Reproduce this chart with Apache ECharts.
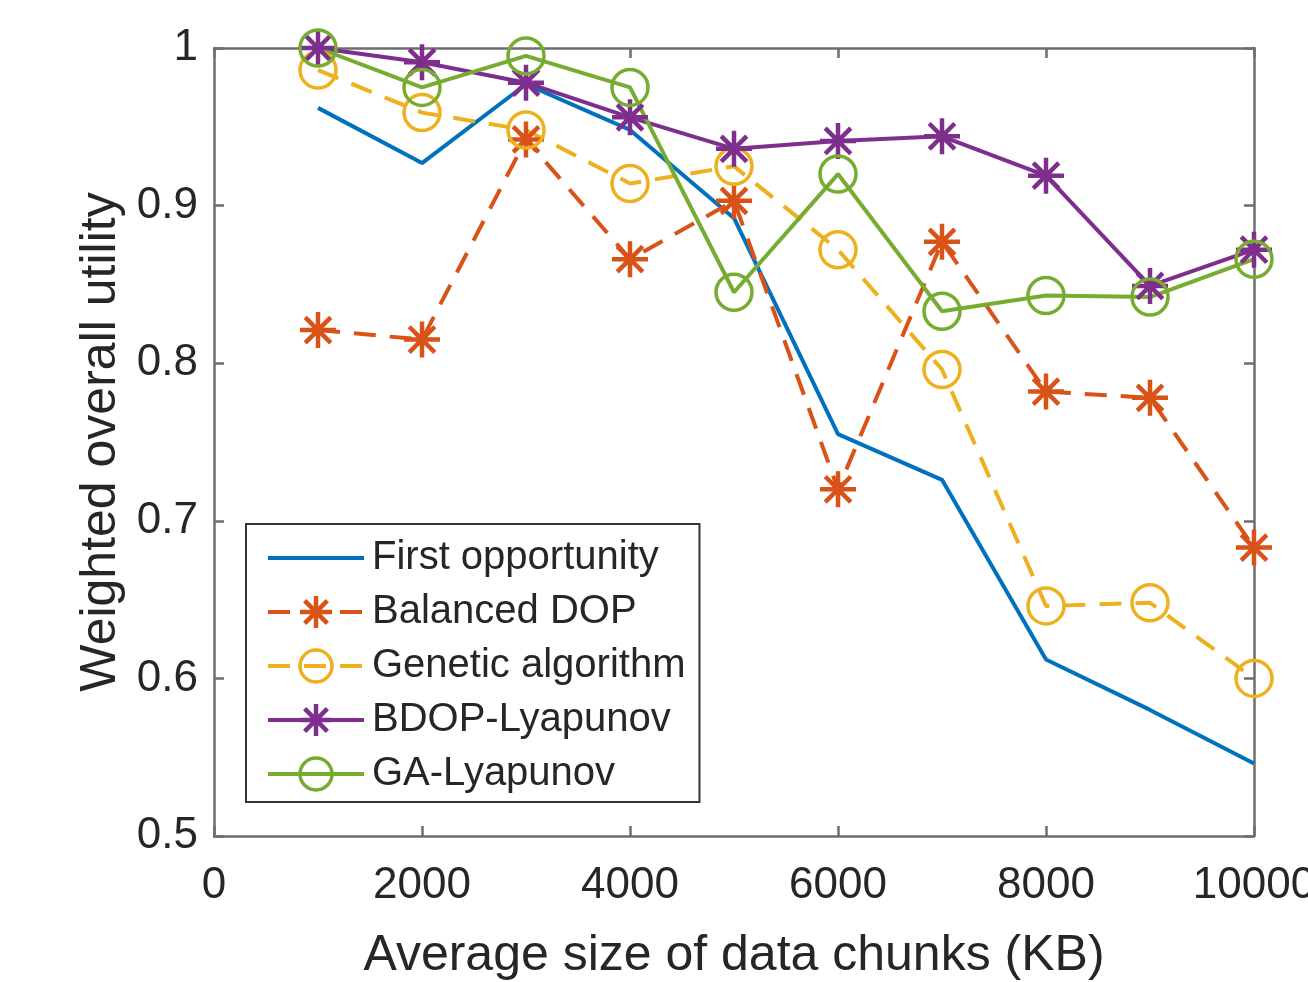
<!DOCTYPE html>
<html>
<head>
<meta charset="utf-8">
<script src="https://cdn.jsdelivr.net/npm/echarts@6/dist/echarts.min.js"></script>
<style>
html, body { margin: 0; padding: 0; background: #fff; }
#main { width: 1308px; height: 982px; }
</style>
</head>
<body>
<div id="main"></div>
<script>
// x 轴：数据块平均大小 (KB)
var chunkSizes = [1000, 2000, 3000, 4000, 5000, 6000, 7000, 8000, 9000, 10000];

// 各算法的加权总效用
var firstOpportunity = [0.962, 0.927, 0.977, 0.948, 0.892, 0.755, 0.726, 0.612, 0.580, 0.546];
var balancedDOP      = [0.821, 0.815, 0.942, 0.866, 0.903, 0.720, 0.877, 0.782, 0.778, 0.683];
var geneticAlgorithm = [0.986, 0.959, 0.948, 0.914, 0.925, 0.872, 0.796, 0.646, 0.648, 0.600];
var bdopLyapunov     = [1.000, 0.991, 0.978, 0.956, 0.936, 0.941, 0.944, 0.919, 0.849, 0.872];
var gaLyapunov       = [1.000, 0.975, 0.995, 0.975, 0.845, 0.920, 0.833, 0.843, 0.842, 0.866];

var seriesNames = ['First opportunity', 'Balanced DOP', 'Genetic algorithm', 'BDOP-Lyapunov', 'GA-Lyapunov'];
var xTicks = [0, 2000, 4000, 6000, 8000, 10000];
var yTicks = [0.5, 0.6, 0.7, 0.8, 0.9, 1];

var FONT = '"Liberation Sans", Arial, Helvetica, sans-serif';
var TEXT_COLOR = '#262626';
var AXIS_COLOR = '#6e6e6e';

// 星号标记
var ASTERISK = 'path://M10,0L10,20M0,10L20,10M2.9,2.9L17.1,17.1M2.9,17.1L17.1,2.9';

function pairs(ys) {
    return chunkSizes.map(function (x, i) { return [x, ys[i]]; });
}

function makeSeries(name, ys, color, dashed, marker) {
    var s = {
        name: name,
        type: 'line',
        data: pairs(ys),
        xAxisIndex: 0,
        yAxisIndex: 0,
        lineStyle: {
            color: color,
            width: 4,
            type: dashed ? [22, 14] : 'solid'
        },
        emphasis: { disabled: true },
        animation: false
    };
    if (marker === 'star') {
        s.symbol = ASTERISK;
        s.symbolSize = 36;
        s.itemStyle = { color: color, borderColor: color, borderWidth: 4.5 };
    } else if (marker === 'circle') {
        s.symbol = 'circle';
        s.symbolSize = 36;
        s.itemStyle = { color: 'rgba(0,0,0,0)', borderColor: color, borderWidth: 3.5 };
    } else {
        s.symbol = 'none';
        s.itemStyle = { color: color };
    }
    return s;
}

var myChart = echarts.init(document.getElementById('main'));

var axisTick = { show: true, inside: true, length: 10, lineStyle: { color: AXIS_COLOR, width: 2.5 } };
var axisLine = { show: true, onZero: false, lineStyle: { color: AXIS_COLOR, width: 2.5 } };

function plainNumber(v) {
    return String(Math.round(v * 10) / 10);
}

var option = {
    backgroundColor: '#fff',
    animation: false,
    grid: {
        left: 214,
        right: 54,
        top: 48,
        bottom: 146,
        containLabel: false,
        outerBoundsMode: 'none'
    },
    legend: {
        orient: 'vertical',
        left: 246,
        top: 524,
        padding: [14, 14, 8, 20],
        itemWidth: 96,
        itemHeight: 40,
        itemGap: 14,
        backgroundColor: '#fff',
        borderColor: '#333',
        borderWidth: 2,
        borderRadius: 0,
        selectedMode: false,
        lineStyle: { width: 4 },
        textStyle: {
            fontFamily: FONT,
            fontSize: 40,
            color: TEXT_COLOR,
            padding: [0, 0, 0, 3]
        },
        data: [
            { name: seriesNames[0], itemStyle: { opacity: 0 } },
            { name: seriesNames[1], itemStyle: { borderWidth: 4.5 } },
            { name: seriesNames[2], itemStyle: { borderWidth: 3.5 } },
            { name: seriesNames[3], itemStyle: { borderWidth: 4.5 } },
            { name: seriesNames[4], itemStyle: { borderWidth: 3.5 } }
        ]
    },
    xAxis: [{
        type: 'value',
        min: xTicks[0],
        max: xTicks[xTicks.length - 1],
        interval: 2000,
        position: 'bottom',
        name: 'Average size of data chunks (KB)',
        nameLocation: 'middle',
        nameGap: 95,
        nameTextStyle: { fontFamily: FONT, fontSize: 50, color: TEXT_COLOR },
        axisLabel: { fontFamily: FONT, fontSize: 44, color: TEXT_COLOR, margin: 28, formatter: plainNumber },
        axisTick: axisTick,
        axisLine: axisLine,
        splitLine: { show: false }
    }, {
        type: 'value',
        min: xTicks[0],
        max: xTicks[xTicks.length - 1],
        interval: 2000,
        position: 'top',
        axisLabel: { show: false },
        axisTick: axisTick,
        axisLine: axisLine,
        splitLine: { show: false }
    }],
    yAxis: [{
        type: 'value',
        min: yTicks[0],
        max: yTicks[yTicks.length - 1],
        interval: 0.1,
        position: 'left',
        name: 'Weighted overall utility',
        nameLocation: 'middle',
        nameGap: 86,
        nameTextStyle: { fontFamily: FONT, fontSize: 50, color: TEXT_COLOR },
        axisLabel: { fontFamily: FONT, fontSize: 44, color: TEXT_COLOR, margin: 16, formatter: plainNumber },
        axisTick: axisTick,
        axisLine: axisLine,
        splitLine: { show: false }
    }, {
        type: 'value',
        min: yTicks[0],
        max: yTicks[yTicks.length - 1],
        interval: 0.1,
        position: 'right',
        axisLabel: { show: false },
        axisTick: axisTick,
        axisLine: axisLine,
        splitLine: { show: false }
    }],
    series: [
        makeSeries(seriesNames[0], firstOpportunity, '#0072BD', false, null),
        makeSeries(seriesNames[1], balancedDOP, '#D95319', true, 'star'),
        makeSeries(seriesNames[2], geneticAlgorithm, '#EDB120', true, 'circle'),
        makeSeries(seriesNames[3], bdopLyapunov, '#7E2F8E', false, 'star'),
        makeSeries(seriesNames[4], gaLyapunov, '#77AC30', false, 'circle')
    ]
};

myChart.setOption(option);
</script>
</body>
</html>
